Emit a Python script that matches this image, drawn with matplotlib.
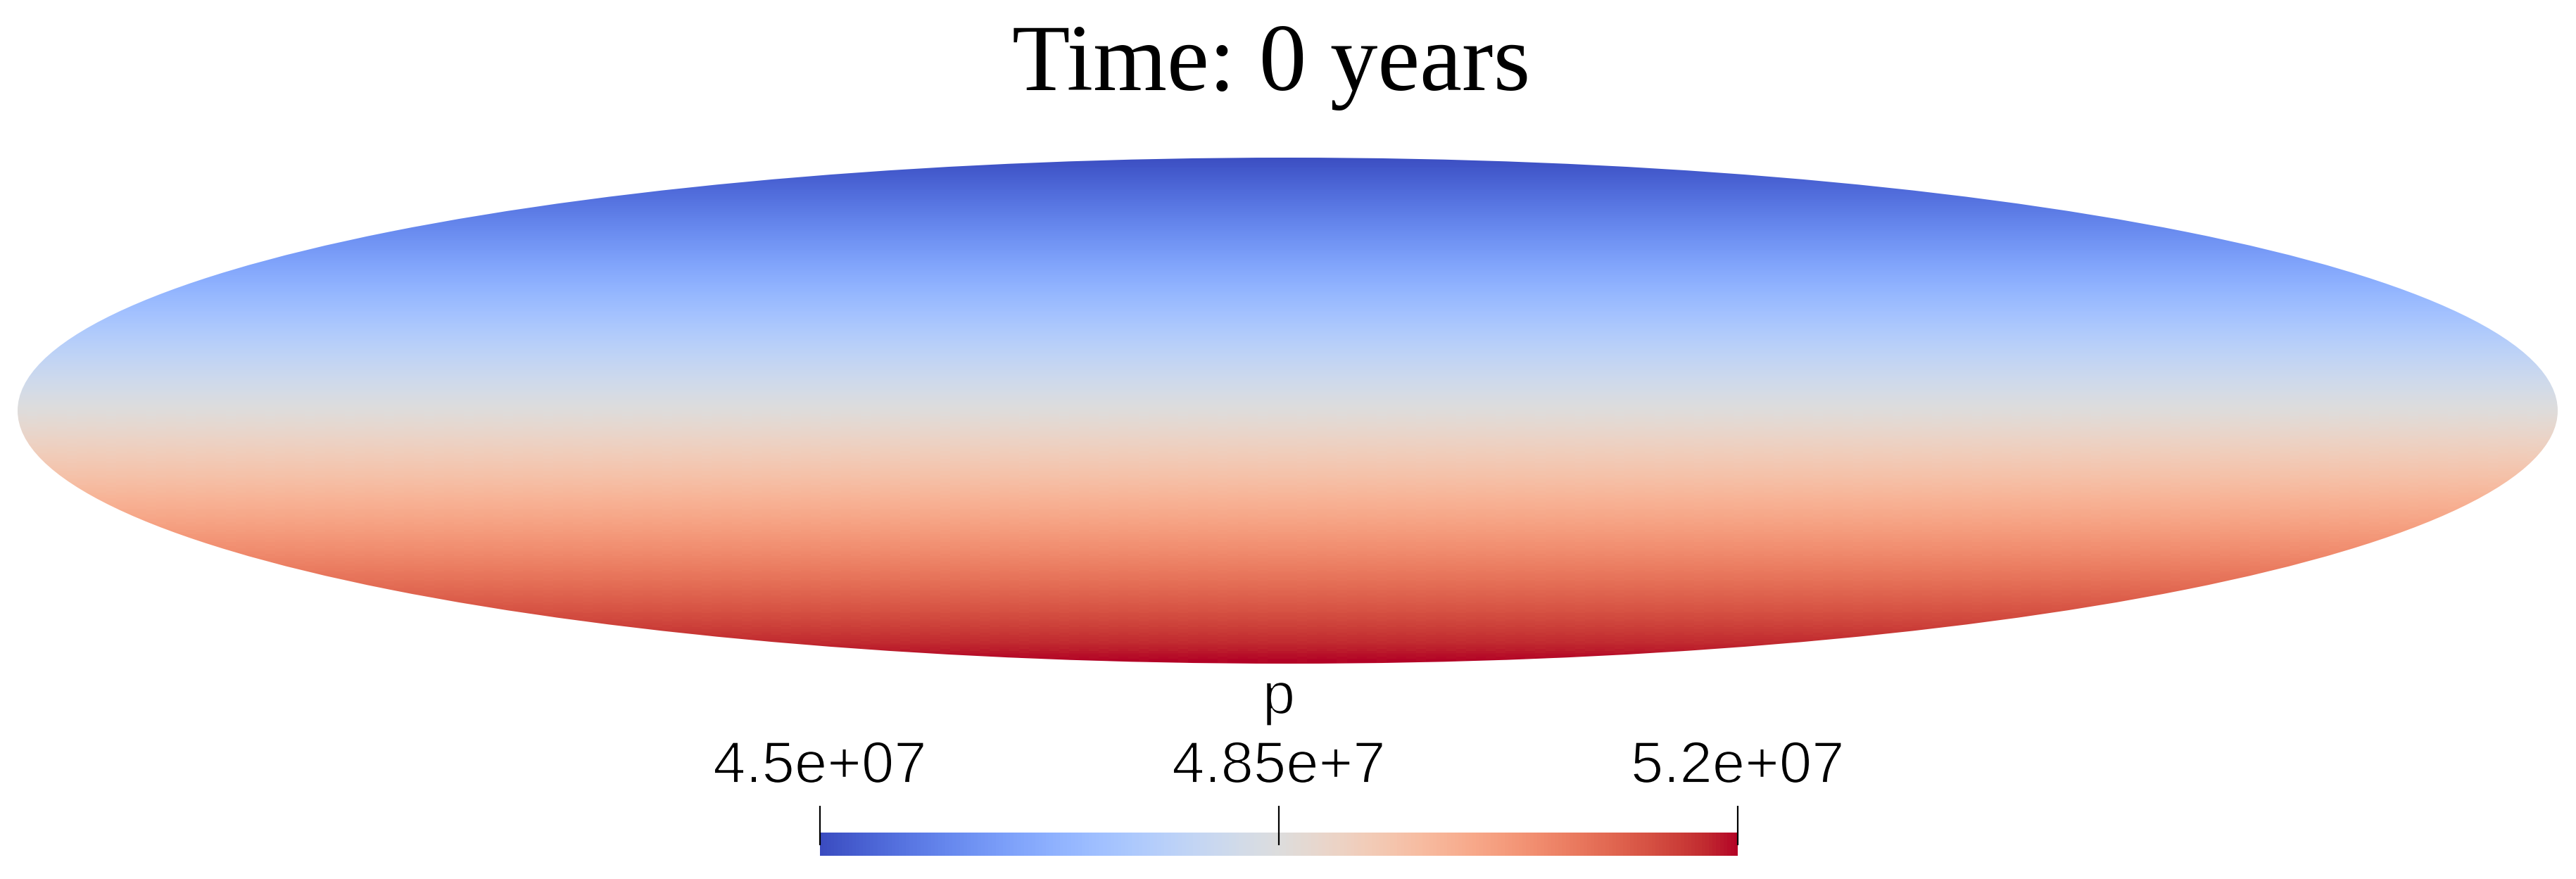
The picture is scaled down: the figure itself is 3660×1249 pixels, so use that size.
#!/usr/bin/env python3
# -*- coding: utf-8 -*-
import matplotlib
matplotlib.use('Agg')
import matplotlib.pyplot as plt
import matplotlib.patheffects as pe
from matplotlib.patches import Ellipse
from matplotlib.cm import ScalarMappable
from matplotlib.colors import Normalize
import numpy as np

# pressure at the top and the bottom of the ellipse
p_rows = [4.5e7, 5.2e7]
p_min = 4.5e7
p_max = 5.2e7
cbar_ticks = [4.5e7, 4.85e7, 5.2e7]
cbar_labels = ['4.5e+07', '4.85e+7', '5.2e+07']
title = 'Time: 0 years'

W, H = 3660, 1249
fig = plt.figure(figsize=(W / 100, H / 100), dpi=100, facecolor='white')


def box(x0, y0, x1, y1):
    # pixel box (y down) to figure fractions
    return [x0 / W, 1 - y1 / H, (x1 - x0) / W, (y1 - y0) / H]


norm = Normalize(p_min, p_max)

# the reservoir, an ellipse with a vertical pressure gradient
ax = fig.add_axes(box(25, 224, 3634, 943))
field = np.array(p_rows).reshape(-1, 1)
# two rows over y=-2..2 puts their centres on the ellipse top and bottom
im = ax.imshow(field, cmap='coolwarm', norm=norm, extent=(-1, 1, -2, 2),
               aspect='auto', interpolation='bilinear', origin='upper')
ax.set_xlim(-1, 1)
ax.set_ylim(-1, 1)
ax.axis('off')
outline = Ellipse((0, 0), 2, 2, transform=ax.transData, fc='none', ec='none')
ax.add_patch(outline)
im.set_clip_path(outline)

fig.text(1806.5 / W, 1 - 128 / H, title, family='Liberation Serif', fontsize=97,
         ha='center', va='baseline', color='black')

# colour bar
cax = fig.add_axes(box(1165, 1183, 2469, 1216))
cbar = fig.colorbar(ScalarMappable(norm=norm, cmap='coolwarm'), cax=cax,
                    orientation='horizontal')
cbar.outline.set_visible(False)
cax.set_xticks([])
cax.vlines(cbar_ticks, 0.44, 2.15, color='black', lw=1.6, clip_on=False,
           transform=cax.get_xaxis_transform())

# the labels are thin in the original, so shave the glyphs with a white edge
thin = [pe.Normal(), pe.Stroke(linewidth=1.4, foreground='white')]
for v, lab in zip(cbar_ticks, cbar_labels):
    t = cax.text(v, 3.15, lab, transform=cax.get_xaxis_transform(), ha='center',
                 va='baseline', family='Liberation Sans', fontsize=60, color='black')
    t.set_path_effects(thin)
t = cax.text(cbar_ticks[1], 6.12, 'p', transform=cax.get_xaxis_transform(),
             ha='center', va='baseline', family='Liberation Sans', fontsize=60,
             color='black')
t.set_path_effects(thin)

plt.savefig('out.png', dpi=100)
